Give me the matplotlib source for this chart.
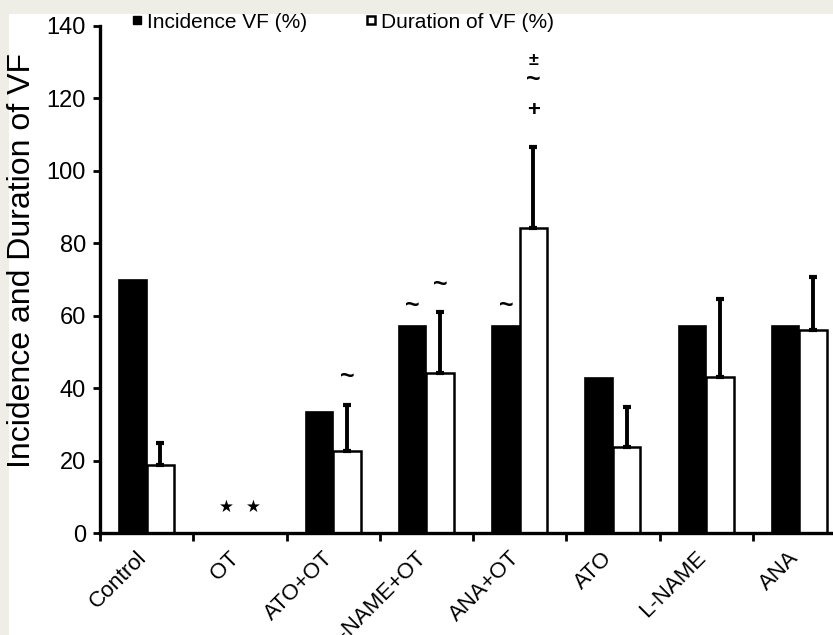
import numpy as np
import matplotlib.pyplot as plt
from matplotlib.lines import Line2D
from matplotlib.patches import Rectangle
from matplotlib.transforms import ScaledTranslation

# ----------------------------------------------------------
# dados
# ----------------------------------------------------------
groups = ['Control', 'OT', 'ATO+OT', 'L-NAME+OT', 'ANA+OT', 'ATO', 'L-NAME', 'ANA']
incidence = [70, 0, 33.3, 57.1, 57.1, 42.8, 57.1, 57.1]
duration = [18.8, 0, 22.7, 44.1, 84.2, 23.7, 43.2, 56.1]
duration_err = [6.1, 0, 12.6, 16.9, 22.3, 11.1, 21.4, 14.5]

# simbolos de significancia: (grupo, serie 0=incidencia 1=duracao, altura, texto)
marks = [
    (1, 0, 7.2, '★'),
    (1, 1, 7.2, '★'),
    (2, 1, 43.0, '~'),
    (3, 0, 62.7, '~'),
    (3, 1, 68.5, '~'),
    (4, 0, 62.7, '~'),
    (4, 1, 116.8, '+'),
    (4, 1, 125.1, '~'),
    (4, 1, 130.4, '±'),
]
mark_size = {'★': 12, '~': 18, '+': 16, '±': 13}

plt.rcParams['font.family'] = ['Liberation Sans', 'DejaVu Sans']

W, H = 833, 635
fig = plt.figure(figsize=(W / 100, H / 100), dpi=100)
fig.patch.set_facecolor('#efeee6')
# painel branco
fig.patches.append(Rectangle((9 / W, 0), 1, (H - 14) / H, transform=fig.transFigure,
                             facecolor='white', edgecolor='none', zorder=-5))

x0, x1 = 100, 846
y_top, y_bot = 26, 533
ax = fig.add_axes([x0 / W, (H - y_bot) / H, (x1 - x0) / W, (y_bot - y_top) / H])
ax.set_facecolor('none')
ax.set_zorder(2)

x = np.arange(len(groups))
w = 0.295
ax.bar(x - w / 2, incidence, w, color='black', edgecolor='black', linewidth=1.2)
ax.bar(x + w / 2, duration, w, color='white', edgecolor='black', linewidth=1.8)

mask = [e > 0 for e in duration_err]
xe = (x + w / 2)[mask]
ye = np.array(duration)[mask]
ee = np.array(duration_err)[mask]
ax.errorbar(xe, ye, yerr=[np.zeros_like(ee), ee], fmt='none', ecolor='black',
            elinewidth=2.8, capsize=3, capthick=3)

for gi, si, yv, s in marks:
    xp = gi - w / 2 if si == 0 else gi + w / 2
    if s == '★':
        ax.text(xp, yv, s, ha='center', va='center', fontsize=mark_size[s], family='DejaVu Sans')
    else:
        ax.text(xp, yv, s, ha='center', va='center', fontsize=mark_size[s], fontweight='bold')

ax.set_xlim(-0.5, len(groups) - 0.5)
ax.set_ylim(0, 140)
ax.set_yticks(np.arange(0, 141, 20))
ax.tick_params(axis='y', labelsize=17, length=5, width=2, pad=5, direction='out')

ax.set_xticks(x)
ax.set_xticklabels(groups, rotation=45, ha='right', va='top', rotation_mode='anchor', fontsize=16)
ax.tick_params(axis='x', which='major', length=0, pad=14)
ax.set_xticks(np.arange(len(groups)) - 0.5, minor=True)
ax.tick_params(axis='x', which='minor', length=6, width=2, direction='out')
shift = ScaledTranslation(-0.11, 0.05, fig.dpi_scale_trans)
for lbl in ax.get_xticklabels():
    lbl.set_transform(lbl.get_transform() + shift)

for side in ['top', 'right']:
    ax.spines[side].set_visible(False)
for side in ['left', 'bottom']:
    ax.spines[side].set_linewidth(2.4)

# titulo do eixo y posicionado no centro medido
fig.text(22 / W, 1 - 261 / H, 'Incidence and Duration of VF', rotation=90,
         ha='center', va='center', fontsize=23)

handles = [
    Line2D([], [], marker='s', linestyle='none', markersize=5.5, markerfacecolor='black',
           markeredgecolor='black'),
    Line2D([], [], marker='s', linestyle='none', markersize=5.5, markerfacecolor='white',
           markeredgecolor='black', markeredgewidth=1.8),
]
fig.legend(handles, ['Incidence VF (%)', 'Duration of VF (%)'], ncol=2, frameon=False,
           loc='center left', bbox_to_anchor=(131 / W, 1 - 22 / H), fontsize=15,
           handlelength=0.6, handletextpad=0.15, columnspacing=2.8, borderaxespad=0,
           borderpad=0)

fig.savefig('out.png', dpi=100, facecolor=fig.get_facecolor())
